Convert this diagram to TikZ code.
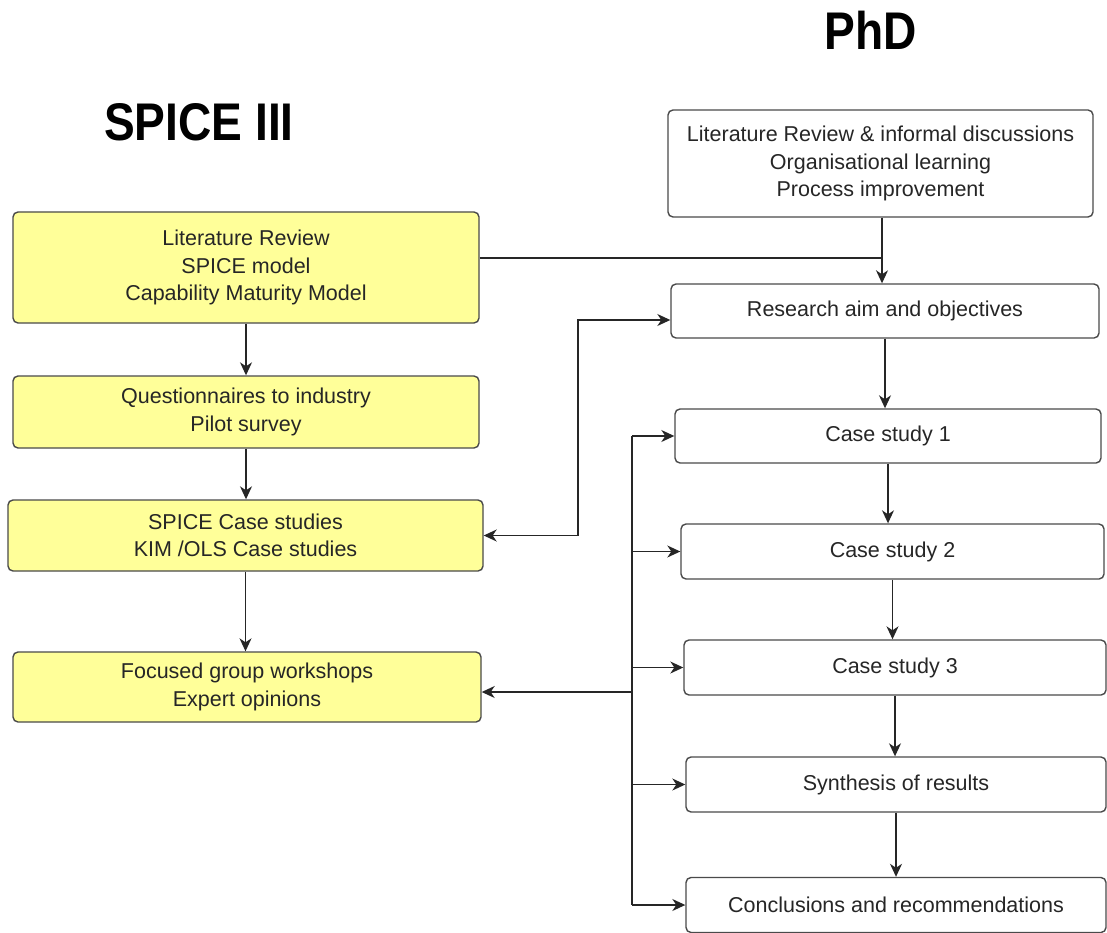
\documentclass[tikz,border=0pt]{standalone}
\usepackage{fontspec}
\setmainfont{Liberation Sans}
\usetikzlibrary{arrows.meta}
\definecolor{boxline}{HTML}{4A4A4A}
\definecolor{boxtext}{HTML}{262626}
\definecolor{boxyellow}{HTML}{FFFF99}
\begin{document}
\begin{tikzpicture}[x=1pt,y=-1pt,
  stagebox/.style={draw=boxline, line width=1.4pt, rounded corners=5pt,
    fill=white, text=boxtext, align=center, inner sep=0pt,
    font=\fontsize{21.5}{27.5}\selectfont},
  spicebox/.style={stagebox, fill=boxyellow},
  title/.style={font=\fontsize{53}{60}\selectfont\bfseries, anchor=base},
  link/.style={line width=1.4pt, draw=black!85},
  tip/.tip={Stealth[length=13pt,width=12pt,inset=4pt]},
  arr/.style={link, -tip},
  dblarr/.style={link, tip-tip}]
\useasboundingbox (0,0) rectangle (1107,933);

% column headings
\node[title] (spiceTitle) at (199,141) {\scalebox{0.87}[1]{SPICE III}};
\node[title] (phdTitle) at (871,50) {\scalebox{0.87}[1]{PhD}};

% SPICE III stages
\node[spicebox, minimum width=466pt, minimum height=111pt] (lr) at (246,267.5)
  {Literature Review\\SPICE model\\Capability Maturity Model};
\node[spicebox, minimum width=466pt, minimum height=72pt] (quest) at (246,412)
  {Questionnaires to industry\\Pilot survey};
\node[spicebox, minimum width=475pt, minimum height=71pt] (spcase) at (245.5,535.5)
  {SPICE Case studies\\KIM /OLS Case studies};
\node[spicebox, minimum width=468pt, minimum height=70pt] (focus) at (247,687)
  {Focused group workshops\\Expert opinions};

% PhD stages
\node[stagebox, minimum width=425pt, minimum height=107pt] (phdlit) at (880.5,163.5)
  {Literature Review \& informal discussions\\Organisational learning\\Process improvement};
\node[stagebox, minimum width=428pt, minimum height=54pt] (aim) at (885,311)
  {Research aim and objectives};
\node[stagebox, minimum width=426pt, minimum height=54pt] (cs1) at (888,436)
  {Case study 1};
\node[stagebox, minimum width=423pt, minimum height=55pt] (cs2) at (892.5,551.5)
  {Case study 2};
\node[stagebox, minimum width=422pt, minimum height=55pt] (cs3) at (895,667.5)
  {Case study 3};
\node[stagebox, minimum width=420pt, minimum height=55pt] (synth) at (896,784.5)
  {Synthesis of results};
\node[stagebox, minimum width=420pt, minimum height=55pt] (concl) at (896,905)
  {Conclusions and recommendations};

% SPICE III flow
\draw[arr] (lr.south) -- (lr.south |- quest.north);
\draw[arr] (quest.south) -- (quest.south |- spcase.north);
\draw[arr] (spcase.south) -- (spcase.south |- focus.north);

% PhD flow
\coordinate (merge) at (882,258);
\draw[link] (lr.east |- merge) -- (merge);
\draw[arr] (phdlit.south -| merge) -- (merge |- aim.north);
\draw[arr] (aim.south) -- (aim.south |- cs1.north);
\draw[arr] (cs1.south) -- (cs1.south |- cs2.north);
\draw[arr] (cs2.south) -- (cs2.south |- cs3.north);
\draw[arr] (cs3.south) -- (cs3.south |- synth.north);
\draw[arr] (synth.south) -- (synth.south |- concl.north);

% research aim <-> SPICE case studies
\coordinate (aimIn) at ([yshift=-9pt]aim.west);
\coordinate (loopX) at (578,0);
\draw[dblarr] (spcase.east) -- (loopX |- spcase.east) -- (loopX |- aimIn) -- (aimIn);

% distribution bus to the case studies and results
\coordinate (bus) at (632,0);
\draw[link] (bus |- cs1.west) -- (bus |- concl.west);
\draw[arr] (bus |- cs1.west) -- (cs1.west);
\draw[arr] (bus |- cs2.west) -- (cs2.west);
\draw[arr] (bus |- cs3.west) -- (cs3.west);
\draw[arr] (bus |- synth.west) -- (synth.west);
\draw[arr] (bus |- concl.west) -- (concl.west);
\coordinate (focusIn) at ([yshift=-5pt]focus.east);
\draw[arr] (bus |- focusIn) -- (focusIn);
\end{tikzpicture}
\end{document}
